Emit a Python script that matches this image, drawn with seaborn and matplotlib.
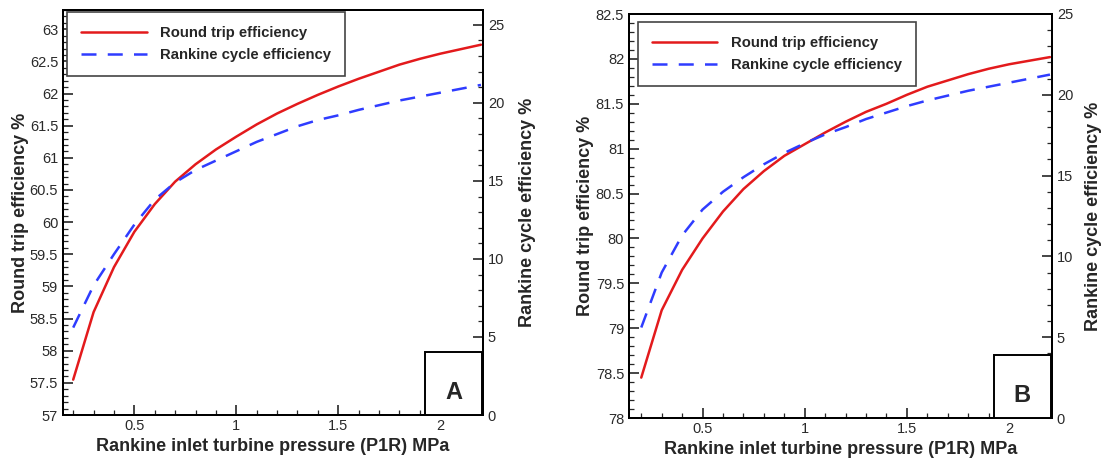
import matplotlib
matplotlib.use("Agg")
import matplotlib.pyplot as plt
import seaborn as sns
from matplotlib.patches import Rectangle
from matplotlib.ticker import MultipleLocator, FormatStrFormatter

sns.set_style("white")
plt.rcParams.update(
    {
        "font.family": ["Liberation Sans", "DejaVu Sans"],
        "axes.linewidth": 1.4,
        "axes.edgecolor": "black",
    }
)

# pressure (MPa)
pressure = [0.2, 0.3, 0.4, 0.5, 0.6, 0.7, 0.8, 0.9, 1.0, 1.1, 1.2,
            1.3, 1.4, 1.5, 1.6, 1.7, 1.8, 1.9, 2.0, 2.1, 2.2]

# panel A
rte_a = [57.55, 58.6, 59.3, 59.85, 60.28, 60.63, 60.9, 61.13, 61.33, 61.52, 61.69,
         61.84, 61.98, 62.11, 62.23, 62.34, 62.45, 62.54, 62.62, 62.69, 62.76]
rankine_a = [5.6, 8.3, 10.3, 12.2, 13.8, 14.9, 15.7, 16.3, 16.9, 17.5, 18.0,
             18.5, 18.9, 19.2, 19.55, 19.85, 20.15, 20.4, 20.65, 20.9, 21.15]

# panel B
rte_b = [78.45, 79.2, 79.65, 80.0, 80.3, 80.55, 80.75, 80.92, 81.05, 81.18, 81.3,
         81.41, 81.5, 81.6, 81.69, 81.76, 81.83, 81.89, 81.94, 81.98, 82.02]
rankine_b = [5.6, 9.0, 11.3, 12.9, 14.0, 14.9, 15.7, 16.4, 17.0, 17.55, 18.0,
             18.5, 18.9, 19.3, 19.65, 19.95, 20.25, 20.5, 20.75, 21.0, 21.25]

RED = "#e31a1c"
BLUE = "#2f3cff"
W, H = 1110, 461


def draw_panel(fig, rect_px, x_lim, y_lim, y2_lim, rte, rankine, letter, leg_xy, ylab_x):
    l, t, r, b = rect_px
    ax = fig.add_axes([l / W, 1 - b / H, (r - l) / W, (b - t) / H])
    ax2 = ax.twinx()

    sns.lineplot(x=pressure, y=rte, ax=ax, color=RED, linewidth=1.8,
                 label="Round trip efficiency", legend=False)
    sns.lineplot(x=pressure, y=rankine, ax=ax2, color=BLUE, linewidth=1.8,
                 linestyle=(0, (6, 4.5)), label="Rankine cycle efficiency", legend=False)

    ax.set_xlim(*x_lim)
    ax.set_ylim(*y_lim)
    ax2.set_ylim(*y2_lim)

    ax.xaxis.set_major_locator(MultipleLocator(0.5))
    ax.xaxis.set_minor_locator(MultipleLocator(0.1))
    ax.yaxis.set_major_locator(MultipleLocator(0.5))
    ax.yaxis.set_minor_locator(MultipleLocator(0.1))
    ax2.yaxis.set_major_locator(MultipleLocator(5))
    ax2.yaxis.set_minor_locator(MultipleLocator(1))
    ax.xaxis.set_major_formatter(FormatStrFormatter("%g"))
    ax.yaxis.set_major_formatter(FormatStrFormatter("%g"))

    for a in (ax, ax2):
        a.tick_params(which="major", direction="in", length=7, width=1.2,
                      labelsize=10.5, labelcolor="#2a2a2a")
        a.tick_params(which="minor", direction="in", length=3.5, width=0.9)
    ax.tick_params(axis="y", which="both", left=True, right=False)
    ax.tick_params(axis="x", which="both", bottom=True, top=False, pad=3)
    ax2.tick_params(axis="y", which="both", right=True, left=False)

    ax.set_xlabel("Rankine inlet turbine pressure (P1R) MPa", fontsize=13,
                  fontweight="bold", va="center")
    ax.xaxis.set_label_coords(0.5, -31 / (b - t))
    ax.set_ylabel("Round trip efficiency %", fontsize=13, fontweight="bold", va="center")
    ax.yaxis.set_label_coords(ylab_x[0], 0.5)
    ax2.set_ylabel("Rankine cycle efficiency %", fontsize=13, fontweight="bold", va="center")
    ax2.yaxis.set_label_coords(ylab_x[1], 0.5)

    handles = ax.get_lines() + ax2.get_lines()
    ax2.legend(handles=handles, labels=[h.get_label() for h in handles],
               loc="upper left", bbox_to_anchor=leg_xy, borderaxespad=0,
               fancybox=False, framealpha=1, edgecolor="#444444",
               prop={"weight": "bold", "size": 10.7}, handlelength=4.4,
               handletextpad=0.9, labelspacing=0.55, borderpad=0.95)
    ax2.get_legend().get_frame().set_linewidth(1.2)

    bw, bh = 0.134, 0.155
    ax2.add_patch(Rectangle((1 - bw - 0.003, 0.0), bw, bh, transform=ax2.transAxes,
                            facecolor="white", edgecolor="black", linewidth=1.4,
                            zorder=5))
    ax2.text(1 - bw / 2 - 0.003, bh / 2 - 0.022, letter, transform=ax2.transAxes,
             ha="center", va="center", fontsize=17, fontweight="bold", zorder=6)
    return ax, ax2


def main():
    fig = plt.figure(figsize=(W / 100, H / 100), dpi=100)

    draw_panel(fig, (63, 10, 483, 415), (0.15, 2.21), (57, 63.3), (0, 25.95),
               rte_a, rankine_a, "A", (0.01, 0.995), (-0.102, 1.105))
    draw_panel(fig, (629, 14, 1052, 418), (0.14, 2.21), (78, 82.5), (0, 25),
               rte_b, rankine_b, "B", (0.021, 0.98), (-0.104, 1.097))

    fig.savefig("out.png", dpi=100)
    plt.close(fig)


if __name__ == "__main__":
    main()
